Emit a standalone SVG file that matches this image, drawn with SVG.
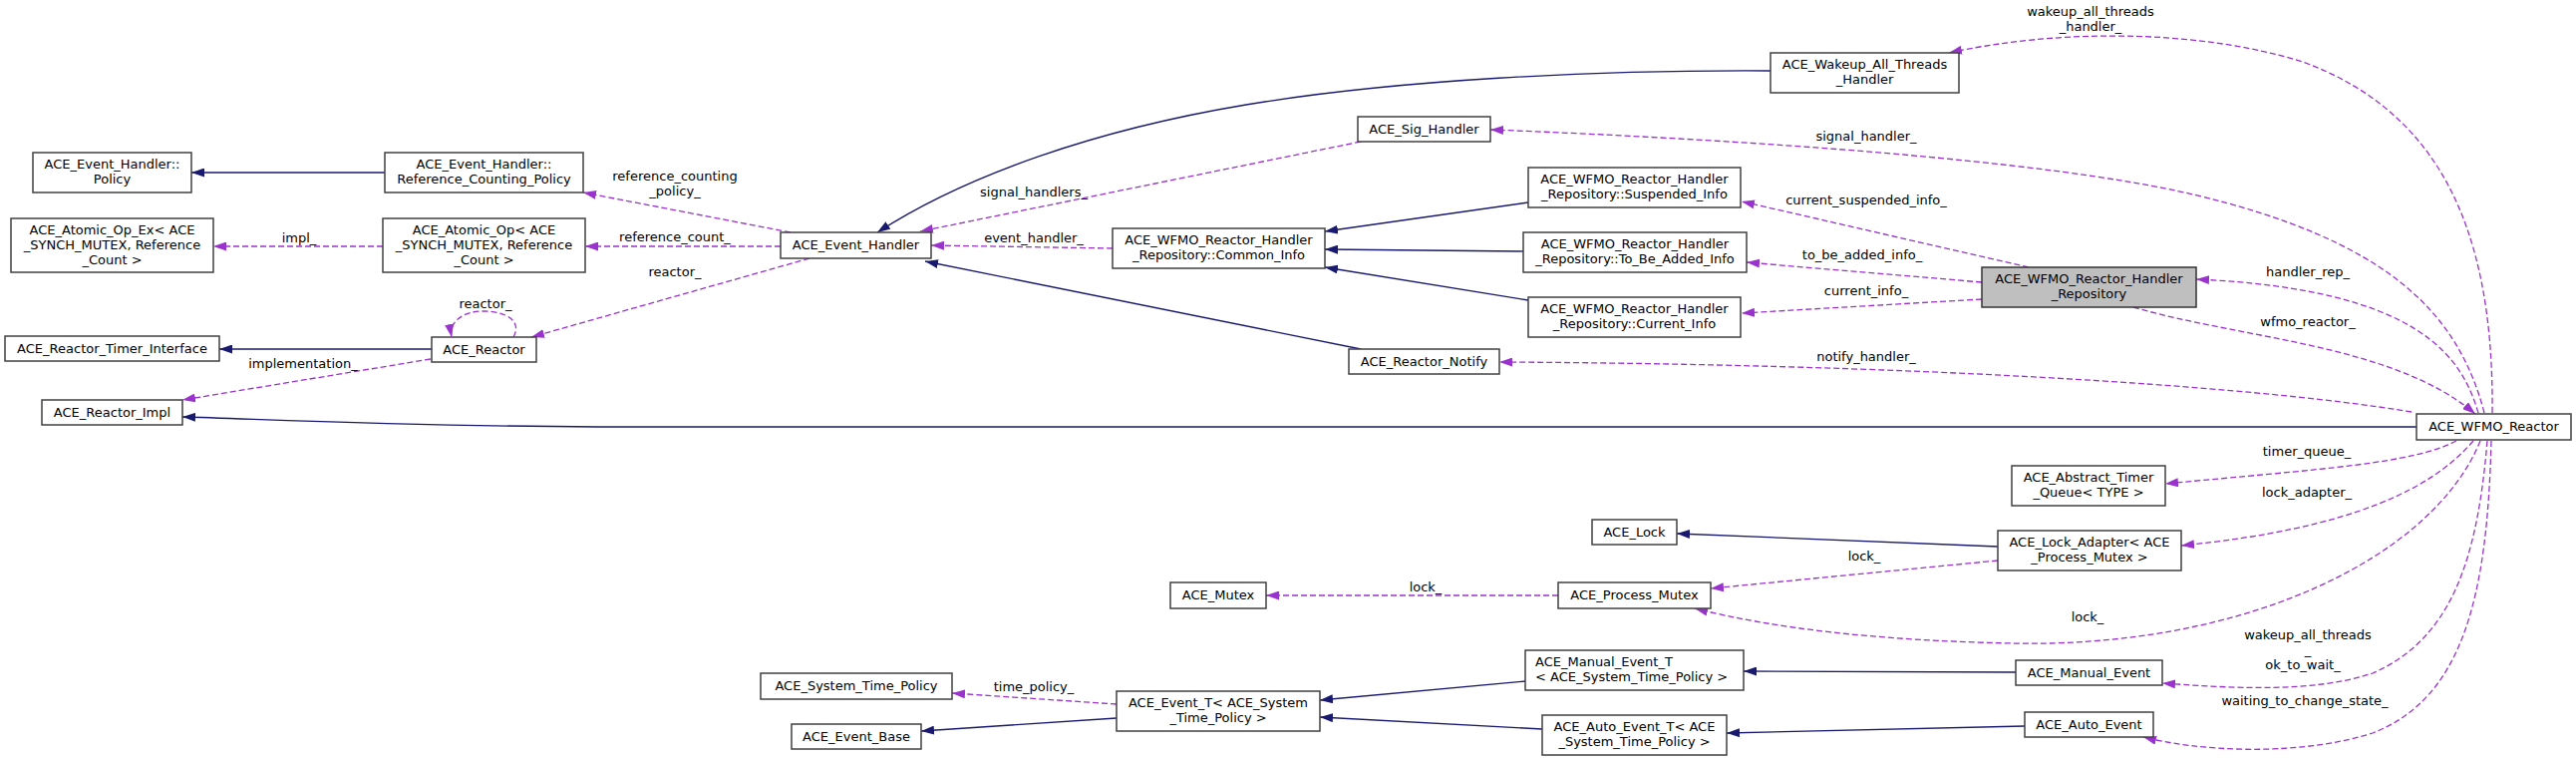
<svg xmlns="http://www.w3.org/2000/svg" width="2584" height="763" viewBox="0 0 2584 763">
<style>
.n rect{fill:#ffffff;stroke:#404040;stroke-width:1.5}
.n.m rect{fill:#bfbfbf;stroke:#333333}
text{font-family:"DejaVu Sans","Liberation Sans",sans-serif;font-size:13px;fill:#000000;text-anchor:middle}
text.l{text-anchor:start}
.inh{fill:none;stroke:#191970;stroke-width:1.3;marker-end:url(#ab)}
.use{fill:none;stroke:#9a32cd;stroke-width:1.3;stroke-dasharray:6,3;marker-end:url(#ap)}
</style>
<defs>
<marker id="ab" viewBox="0 0 13 9" refX="13" refY="4.5" markerWidth="13" markerHeight="9" markerUnits="userSpaceOnUse" orient="auto"><path d="M0,0 L13,4.5 L0,9 z" fill="#191970"/></marker>
<marker id="ap" viewBox="0 0 13 9" refX="13" refY="4.5" markerWidth="13" markerHeight="9" markerUnits="userSpaceOnUse" orient="auto"><path d="M0,0 L13,4.5 L0,9 z" fill="#9a32cd"/></marker>
</defs>
<rect x="0" y="0" width="2584" height="763" fill="#ffffff"/>
<g id="edges">
<path class="inh" d="M386,173 L192,173"/>
<path class="use" d="M384,247 L214,247"/>
<path class="use" d="M793,233 L585,193"/>
<path class="use" d="M783,247 L587,247"/>
<path class="use" d="M812,259 L533,338"/>
<path class="use" d="M515,338 C524,322 508,312 485,312 C465,312 450,322 453,338"/>
<path class="inh" d="M433,350 L220,350"/>
<path class="use" d="M432,360 L183,401"/>
<path class="inh" d="M2424,428 L600,428 C400,427 260,420 183,418"/>
<path class="inh" d="M1776,71 C1600,70 1400,80 1250,105 C1100,130 970,175 880,233"/>
<path class="use" d="M1365,142 L923,232"/>
<path class="use" d="M1116,249 L934,246"/>
<path class="inh" d="M1365,350 L928,262"/>
<path class="inh" d="M1533,203 L1329,232"/>
<path class="inh" d="M1528,252 L1329,250"/>
<path class="inh" d="M1533,301 L1329,268"/>
<path class="use" d="M2492,414 C2465,310 2390,240 2200,195 C2050,160 1750,140 1495,130"/>
<path class="use" d="M2500,414 C2502,220 2440,110 2310,62 C2200,28 2060,30 1955,53"/>
<path class="use" d="M2486,414 C2470,360 2430,290 2203,280"/>
<path class="use" d="M2140,308 C2250,340 2400,345 2483,415"/>
<path class="use" d="M2419,413 C2250,385 1900,365 1504,363"/>
<path class="use" d="M2035,268 L1747,202"/>
<path class="use" d="M1988,283 L1752,263"/>
<path class="use" d="M1988,300 L1747,314"/>
<path class="use" d="M2464,442 C2420,465 2330,470 2172,485"/>
<path class="use" d="M2481,442 C2440,490 2360,530 2188,547"/>
<path class="inh" d="M2004,548 L1682,535"/>
<path class="use" d="M2004,562 L1716,590"/>
<path class="use" d="M1563,597 L1270,597"/>
<path class="use" d="M2488,442 C2440,560 2250,650 2018,645 C1880,642 1780,630 1700,610"/>
<path class="use" d="M2495,442 C2485,560 2460,640 2380,675 C2320,695 2240,690 2169,685"/>
<path class="use" d="M2499,442 C2495,600 2470,700 2380,735 C2300,760 2200,752 2150,739"/>
<path class="inh" d="M2022,674 L1749,673"/>
<path class="inh" d="M2031,728 L1732,735"/>
<path class="inh" d="M1530,683 L1324,702"/>
<path class="inh" d="M1547,731 L1324,719"/>
<path class="use" d="M1120,706 L955,695"/>
<path class="inh" d="M1120,720 L924,733"/>
<text x="300" y="243">impl_</text>
<text x="677" y="181">reference_counting</text>
<text x="677" y="196">_policy_</text>
<text x="677" y="242">reference_count_</text>
<text x="677" y="277">reactor_</text>
<text x="487" y="309">reactor_</text>
<text x="304" y="369">implementation_</text>
<text x="1037" y="197">signal_handlers_</text>
<text x="1037" y="243">event_handler_</text>
<text x="1872" y="141">signal_handler_</text>
<text x="2097" y="16">wakeup_all_threads</text>
<text x="2097" y="31">_handler_</text>
<text x="2315" y="277">handler_rep_</text>
<text x="2315" y="327">wfmo_reactor_</text>
<text x="1872" y="362">notify_handler_</text>
<text x="1872" y="205">current_suspended_info_</text>
<text x="1868" y="260">to_be_added_info_</text>
<text x="1872" y="296">current_info_</text>
<text x="2314" y="457">timer_queue_</text>
<text x="2314" y="498">lock_adapter_</text>
<text x="1870" y="562">lock_</text>
<text x="1430" y="593">lock_</text>
<text x="2094" y="623">lock_</text>
<text x="2315" y="641">wakeup_all_threads</text>
<text x="2315" y="656">_</text>
<text x="2310" y="671">ok_to_wait_</text>
<text x="2312" y="707">waiting_to_change_state_</text>
<text x="1037" y="693">time_policy_</text>
</g>
<g id="n_policy" class="n"><rect x="33" y="153" width="159" height="40"/><text x="112.5" y="169">ACE_Event_Handler::</text><text x="112.5" y="184">Policy</text></g>
<g id="n_atomic_op_ex" class="n"><rect x="11" y="219" width="203" height="54"/><text x="112.5" y="235">ACE_Atomic_Op_Ex&lt; ACE</text><text x="112.5" y="250">_SYNCH_MUTEX, Reference</text><text x="112.5" y="265">_Count &gt;</text></g>
<g id="n_ref_policy" class="n"><rect x="386" y="153" width="199" height="40"/><text x="485.5" y="169">ACE_Event_Handler::</text><text x="485.5" y="184">Reference_Counting_Policy</text></g>
<g id="n_atomic_op" class="n"><rect x="384" y="219" width="203" height="54"/><text x="485.5" y="235">ACE_Atomic_Op&lt; ACE</text><text x="485.5" y="250">_SYNCH_MUTEX, Reference</text><text x="485.5" y="265">_Count &gt;</text></g>
<g id="n_timer_interface" class="n"><rect x="5" y="337" width="215" height="25"/><text x="112.5" y="354">ACE_Reactor_Timer_Interface</text></g>
<g id="n_reactor" class="n"><rect x="433" y="338" width="105" height="25"/><text x="485.5" y="355">ACE_Reactor</text></g>
<g id="n_reactor_impl" class="n"><rect x="42" y="401" width="141" height="25"/><text x="112.5" y="418">ACE_Reactor_Impl</text></g>
<g id="n_event_handler" class="n"><rect x="783" y="233" width="151" height="26"/><text x="858.5" y="250">ACE_Event_Handler</text></g>
<g id="n_common_info" class="n"><rect x="1116" y="229" width="213" height="40"/><text x="1222.5" y="245">ACE_WFMO_Reactor_Handler</text><text x="1222.5" y="260">_Repository::Common_Info</text></g>
<g id="n_sig_handler" class="n"><rect x="1362" y="117" width="133" height="25"/><text x="1428.5" y="134">ACE_Sig_Handler</text></g>
<g id="n_wakeup" class="n"><rect x="1776" y="53" width="189" height="40"/><text x="1870.5" y="69">ACE_Wakeup_All_Threads</text><text x="1870.5" y="84">_Handler</text></g>
<g id="n_suspended_info" class="n"><rect x="1533" y="168" width="213" height="40"/><text x="1639.5" y="184">ACE_WFMO_Reactor_Handler</text><text x="1639.5" y="199">_Repository::Suspended_Info</text></g>
<g id="n_to_be_added_info" class="n"><rect x="1528" y="233" width="224" height="40"/><text x="1640" y="249">ACE_WFMO_Reactor_Handler</text><text x="1640" y="264">_Repository::To_Be_Added_Info</text></g>
<g id="n_current_info" class="n"><rect x="1533" y="298" width="213" height="40"/><text x="1639.5" y="314">ACE_WFMO_Reactor_Handler</text><text x="1639.5" y="329">_Repository::Current_Info</text></g>
<g id="n_reactor_notify" class="n"><rect x="1353" y="350" width="151" height="25"/><text x="1428.5" y="367">ACE_Reactor_Notify</text></g>
<g id="n_handler_repository" class="n m"><rect x="1988" y="268" width="215" height="40"/><text x="2095.5" y="284">ACE_WFMO_Reactor_Handler</text><text x="2095.5" y="299">_Repository</text></g>
<g id="n_wfmo_reactor" class="n"><rect x="2424" y="415" width="155" height="26"/><text x="2501.5" y="432">ACE_WFMO_Reactor</text></g>
<g id="n_abstract_timer" class="n"><rect x="2018" y="467" width="154" height="40"/><text x="2095" y="483">ACE_Abstract_Timer</text><text x="2095" y="498">_Queue&lt; TYPE &gt;</text></g>
<g id="n_lock" class="n"><rect x="1597" y="521" width="85" height="25"/><text x="1639.5" y="538">ACE_Lock</text></g>
<g id="n_lock_adapter" class="n"><rect x="2004" y="532" width="184" height="40"/><text x="2096" y="548">ACE_Lock_Adapter&lt; ACE</text><text x="2096" y="563">_Process_Mutex &gt;</text></g>
<g id="n_process_mutex" class="n"><rect x="1563" y="584" width="153" height="26"/><text x="1639.5" y="601">ACE_Process_Mutex</text></g>
<g id="n_mutex" class="n"><rect x="1174" y="584" width="96" height="26"/><text x="1222" y="601">ACE_Mutex</text></g>
<g id="n_manual_event_t" class="n"><rect x="1530" y="652" width="219" height="40"/><text class="l" x="1540" y="668">ACE_Manual_Event_T</text><text class="l" x="1540" y="683">&lt; ACE_System_Time_Policy &gt;</text></g>
<g id="n_manual_event" class="n"><rect x="2022" y="662" width="147" height="25"/><text x="2095.5" y="679">ACE_Manual_Event</text></g>
<g id="n_auto_event_t" class="n"><rect x="1547" y="717" width="185" height="40"/><text x="1639.5" y="733">ACE_Auto_Event_T&lt; ACE</text><text x="1639.5" y="748">_System_Time_Policy &gt;</text></g>
<g id="n_auto_event" class="n"><rect x="2031" y="714" width="129" height="25"/><text x="2095.5" y="731">ACE_Auto_Event</text></g>
<g id="n_system_time_policy" class="n"><rect x="763" y="675" width="192" height="26"/><text x="859" y="692">ACE_System_Time_Policy</text></g>
<g id="n_event_t" class="n"><rect x="1120" y="693" width="204" height="40"/><text x="1222" y="709">ACE_Event_T&lt; ACE_System</text><text x="1222" y="724">_Time_Policy &gt;</text></g>
<g id="n_event_base" class="n"><rect x="794" y="726" width="130" height="25"/><text x="859" y="743">ACE_Event_Base</text></g>
</svg>
